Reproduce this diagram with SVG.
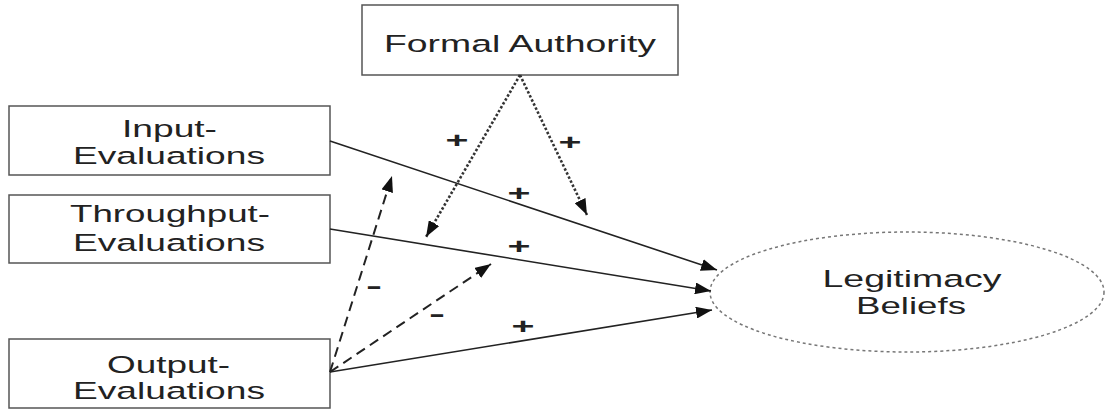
<svg xmlns="http://www.w3.org/2000/svg" width="1107" height="409" viewBox="0 0 1107 409">
<style>
.box{fill:#fff;stroke:#555;stroke-width:1.5}
.lbl{font-family:"Liberation Sans",Arial,sans-serif;font-size:24.5px;fill:#222;text-anchor:middle}
.sign{font-family:"Liberation Sans",Arial,sans-serif;font-size:22px;fill:#222;text-anchor:middle;font-weight:bold}
.solid{stroke:#222;stroke-width:1.6;fill:none}
.dash{stroke:#222;stroke-width:2;fill:none;stroke-dasharray:10 6}
.dot{stroke:#333;stroke-width:2.6;fill:none;stroke-dasharray:2.5 2}
</style>
<defs>
<marker id="ah" viewBox="0 0 16 12" refX="16" refY="6" markerWidth="16" markerHeight="12" markerUnits="userSpaceOnUse" orient="auto">
<path d="M0,0 L16,6 L0,12 Z" fill="#111"/>
</marker>
</defs>
<rect width="1107" height="409" fill="#fff"/>
<g id="formal-authority">
<rect class="box" x="362" y="5" width="316" height="70"/>
<text class="lbl" x="520" y="52" textLength="272" lengthAdjust="spacingAndGlyphs">Formal Authority</text>
</g>
<g id="input-evaluations">
<rect class="box" x="9" y="106" width="321" height="69"/>
<text class="lbl" x="169.5" y="137" textLength="95" lengthAdjust="spacingAndGlyphs">Input-</text>
<text class="lbl" x="169" y="164" textLength="192" lengthAdjust="spacingAndGlyphs">Evaluations</text>
</g>
<g id="throughput-evaluations">
<rect class="box" x="9" y="195" width="321" height="68"/>
<text class="lbl" x="170" y="222" textLength="200" lengthAdjust="spacingAndGlyphs">Throughput-</text>
<text class="lbl" x="169" y="251" textLength="192" lengthAdjust="spacingAndGlyphs">Evaluations</text>
</g>
<g id="output-evaluations">
<rect class="box" x="9" y="339" width="321" height="69"/>
<text class="lbl" x="168.5" y="373" textLength="123" lengthAdjust="spacingAndGlyphs">Output-</text>
<text class="lbl" x="169" y="399" textLength="192" lengthAdjust="spacingAndGlyphs">Evaluations</text>
</g>
<g id="legitimacy-beliefs">
<ellipse cx="907" cy="292" rx="197" ry="60" fill="none" stroke="#777" stroke-width="1.5" stroke-dasharray="3 3"/>
<text class="lbl" x="912" y="287" textLength="179" lengthAdjust="spacingAndGlyphs">Legitimacy</text>
<text class="lbl" x="911" y="314" textLength="110" lengthAdjust="spacingAndGlyphs">Beliefs</text>
</g>
<g id="connectors">
<line class="solid" x1="330" y1="141" x2="717" y2="270" marker-end="url(#ah)"/>
<line class="solid" x1="330" y1="229" x2="711" y2="291" marker-end="url(#ah)"/>
<line class="solid" x1="330" y1="372" x2="712" y2="310" marker-end="url(#ah)"/>
<line class="dash" x1="330" y1="372" x2="392" y2="176" marker-end="url(#ah)"/>
<line class="dash" x1="330" y1="372" x2="491" y2="264" marker-end="url(#ah)"/>
<line class="dot" x1="520" y1="75" x2="426" y2="237" marker-end="url(#ah)"/>
<line class="dot" x1="520" y1="75" x2="587" y2="215" marker-end="url(#ah)"/>
</g>
<g id="signs">
<text class="sign" x="457" y="147.5" textLength="23" lengthAdjust="spacingAndGlyphs">+</text>
<text class="sign" x="570" y="150" textLength="23" lengthAdjust="spacingAndGlyphs">+</text>
<text class="sign" x="519" y="200.5" textLength="23" lengthAdjust="spacingAndGlyphs">+</text>
<text class="sign" x="519" y="254" textLength="23" lengthAdjust="spacingAndGlyphs">+</text>
<text class="sign" x="374" y="293" textLength="16" lengthAdjust="spacingAndGlyphs">-</text>
<text class="sign" x="437" y="321" textLength="16" lengthAdjust="spacingAndGlyphs">-</text>
<text class="sign" x="523" y="334" textLength="23" lengthAdjust="spacingAndGlyphs">+</text>
</g>
</svg>
